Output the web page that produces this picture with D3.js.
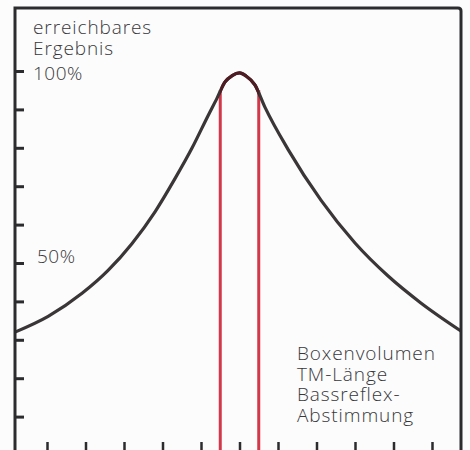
<!DOCTYPE html>
<html>
<head>
<meta charset="utf-8">
<script src="https://cdn.jsdelivr.net/npm/d3@7"></script>
<style>
  body { margin: 0; background: #fcfcfc; }
  svg { display: block; }
  text { font-family: "Open Sans", "Lato", sans-serif; font-weight: 300; fill: #38383b; }
</style>
</head>
<body>
<script>
// curve (x in tick units, y in percent)
var curveX = [0.17, 1.03, 1.91, 2.58, 3.21, 3.81, 4.32, 4.77, 5.18, 5.42, 5.62, 5.81, 6.0, 6.17, 6.4, 6.66, 7.26, 8.12, 9.0, 9.86, 10.71, 11.75];
var curveY = [32.0, 36.1, 42.1, 48.0, 55.1, 63.4, 71.9, 80.0, 88.3, 93.0, 97.1, 98.8, 99.5, 98.7, 96.4, 90.6, 79.6, 66.3, 55.2, 46.6, 39.6, 32.3];
var redX = [5.5, 6.5];
var redTop = [95, 95];
var yTicks = [10, 20, 30, 40, 50, 60, 70, 80, 90, 100];
var xTicks = [1, 2, 3, 4, 5, 6, 7, 8, 9, 10, 11];
var yLabels = [["100%", 100], ["50%", 50]];
var titleLines = ["erreichbares", "Ergebnis"];
var legendLines = ["Boxenvolumen", "TM-Länge", "Bassreflex-", "Abstimmung"];

var W = 470, H = 450;
var ink = "#2c2b2e";

var svg = d3.select("body").append("svg")
    .attr("width", W)
    .attr("height", H);

var x = d3.scaleLinear().domain([0, 12]).range([8.5, 470.5]);
var y = d3.scaleLinear().domain([0, 100]).range([455, 71]);

var axisLeftX = 15, frameTop = 8, frameRight = 461;

// red lines
svg.selectAll(".red")
    .data(redX)
    .enter().append("line")
    .attr("class", "red")
    .attr("x1", function(d) { return x(d); })
    .attr("x2", function(d) { return x(d); })
    .attr("y1", function(d, i) { return y(redTop[i]); })
    .attr("y2", H + 5)
    .attr("stroke", "#d2374a")
    .attr("stroke-width", 3);

// the curve
var pts = curveX.map(function(d, i) { return [d, curveY[i]]; });
var line = d3.line()
    .x(function(d) { return x(d[0]); })
    .y(function(d) { return y(d[1]); })
    .curve(d3.curveMonotoneX);

svg.append("path")
    .attr("d", line(pts))
    .attr("fill", "none")
    .attr("stroke", "#3a3638")
    .attr("stroke-width", 3.2);

// peak between the red lines looks reddish
svg.append("clipPath").attr("id", "peak")
  .append("rect")
    .attr("x", x(redX[0]))
    .attr("y", 0)
    .attr("width", x(redX[1]) - x(redX[0]))
    .attr("height", H);

svg.append("path")
    .attr("d", line(pts))
    .attr("clip-path", "url(#peak)")
    .attr("fill", "none")
    .attr("stroke", "#4e1c22")
    .attr("stroke-width", 3.2);

// frame
svg.append("path")
    .attr("d", "M" + axisLeftX + "," + (H + 5) + " V" + frameTop + " H" + (frameRight - 3) +
         " Q" + frameRight + "," + frameTop + " " + frameRight + "," + (frameTop + 3) + " V" + (H + 5))
    .attr("fill", "none")
    .attr("stroke", ink)
    .attr("stroke-width", 3);

// y ticks
var gy = svg.append("g")
    .attr("transform", "translate(" + axisLeftX + ",0)")
    .call(d3.axisRight(y).tickValues(yTicks).tickSize(9).tickFormat(""));
gy.select(".domain").remove();
gy.selectAll("line").attr("stroke", ink).attr("stroke-width", 3);

// x ticks
var gx = svg.append("g")
    .attr("transform", "translate(0,453)")
    .call(d3.axisTop(x).tickValues(xTicks).tickSize(11).tickFormat(""));
gx.select(".domain").remove();
gx.selectAll("line").attr("stroke", ink).attr("stroke-width", 2.5);

// labels
svg.selectAll(".title")
    .data(titleLines)
    .enter().append("text")
    .attr("x", 33)
    .attr("y", function(d, i) { return 34 + i * 21; })
    .style("font-size", "19px")
    .style("letter-spacing", "0.9px")
    .text(function(d) { return d; });

svg.selectAll(".pct")
    .data(yLabels)
    .enter().append("text")
    .attr("x", function(d) { return d[1] == 100 ? 33 : 37; })
    .attr("y", function(d) { return y(d[1]) + (d[1] == 100 ? 9 : 0); })
    .style("font-size", "19px")
    .style("letter-spacing", "0.5px")
    .text(function(d) { return d[0]; });

svg.selectAll(".legend")
    .data(legendLines)
    .enter().append("text")
    .attr("x", 297)
    .attr("y", function(d, i) { return 360 + i * 20.7; })
    .style("font-size", "19px")
    .style("letter-spacing", "0.9px")
    .text(function(d) { return d; });
</script>
</body>
</html>
